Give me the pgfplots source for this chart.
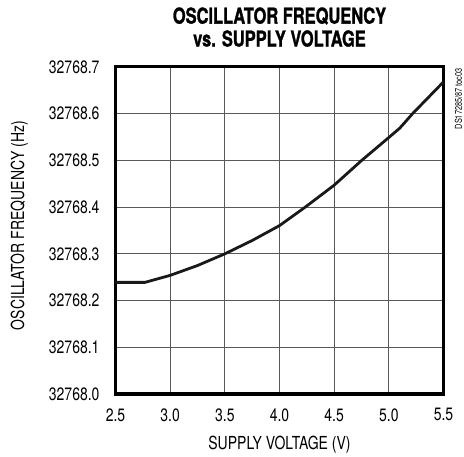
\documentclass[border=0pt]{standalone}
\usepackage{fontspec}
\setmainfont{TeX Gyre Heros}[FakeStretch=0.78]
\newfontfamily\titlefont{TeX Gyre Heros}[FakeStretch=0.75, FakeBold=1.2]
\usepackage{pgfplots}
\pgfplotsset{compat=1.18}

\pgfplotstableread{
v f
2.50 32768.239
2.77 32768.239
3.00 32768.254
3.25 32768.275
3.50 32768.300
3.75 32768.3285
4.00 32768.3605
4.235 32768.400
4.50 32768.447
4.752 32768.500
5.00 32768.549
5.10 32768.569
5.217 32768.600
5.50 32768.668
}\freqdata

\begin{document}
\begin{tikzpicture}
\begin{axis}[
    scale only axis,
    width=328bp, height=327bp,
    xmin=2.5, xmax=5.5,
    ymin=32768.0, ymax=32768.7,
    xtick={2.5,3.0,3.5,4.0,4.5,5.0,5.5},
    ytick={32768.0,32768.1,32768.2,32768.3,32768.4,32768.5,32768.6,32768.7},
    scaled y ticks=false,
    grid=major,
    major grid style={line width=1.1bp, black!65},
    major tick length=0pt,
    axis line style={line width=3bp},
    /pgf/number format/assume math mode=true,
    /pgf/number format/fixed,
    /pgf/number format/fixed zerofill,
    /pgf/number format/precision=1,
    /pgf/number format/1000 sep={},
    tick label style={font=\fontsize{18}{19}\selectfont},
    xticklabel style={yshift=-11bp},
    yticklabel style={xshift=-12.5bp},
    xlabel={SUPPLY VOLTAGE (V)},
    ylabel={OSCILLATOR FREQUENCY (Hz)},
    label style={font=\fontsize{18}{19}\selectfont},
    xlabel style={at={(axis description cs:0.5,-0.156)}, anchor=center},
    ylabel style={at={(axis description cs:-0.293,0.515)}, anchor=center},
]
\addplot[black!90, line width=2.8bp, line join=round] table[x=v, y=f] {\freqdata};
\end{axis}
\node[anchor=south, align=center, inner sep=0pt, font=\titlefont\bfseries\fontsize{22}{23}\selectfont]
    at (164bp,347bp) {OSCILLATOR FREQUENCY\\vs. SUPPLY VOLTAGE};
\node[rotate=90, anchor=east, inner sep=0pt, font=\fontsize{9.5}{10}\selectfont]
    at (343bp,326bp) {DS17285/87 toc03};
\useasboundingbox (-115.5bp,-63bp) rectangle (348.5bp,394bp);
\end{tikzpicture}
\end{document}
